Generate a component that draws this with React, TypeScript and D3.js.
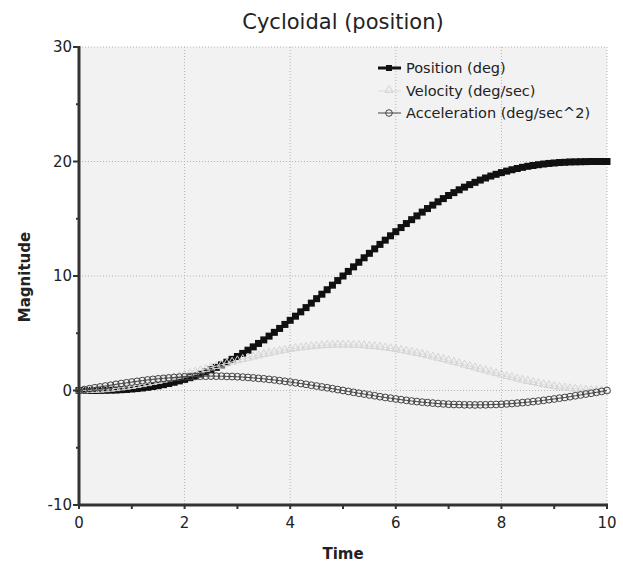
import React from "react";
import * as d3 from "d3";

const time = [
  0, 0.1, 0.2, 0.3, 0.4, 0.5, 0.6, 0.7, 0.8, 0.9,
  1, 1.1, 1.2, 1.3, 1.4, 1.5, 1.6, 1.7, 1.8, 1.9,
  2, 2.1, 2.2, 2.3, 2.4, 2.5, 2.6, 2.7, 2.8, 2.9,
  3, 3.1, 3.2, 3.3, 3.4, 3.5, 3.6, 3.7, 3.8, 3.9,
  4, 4.1, 4.2, 4.3, 4.4, 4.5, 4.6, 4.7, 4.8, 4.9,
  5, 5.1, 5.2, 5.3, 5.4, 5.5, 5.6, 5.7, 5.8, 5.9,
  6, 6.1, 6.2, 6.3, 6.4, 6.5, 6.6, 6.7, 6.8, 6.9,
  7, 7.1, 7.2, 7.3, 7.4, 7.5, 7.6, 7.7, 7.8, 7.9,
  8, 8.1, 8.2, 8.3, 8.4, 8.5, 8.6, 8.7, 8.8, 8.9,
  9, 9.1, 9.2, 9.3, 9.4, 9.5, 9.6, 9.7, 9.8, 9.9,
  10,
];

const position = [
  0, 0.0, 0.0, 0.0, 0.01, 0.02, 0.03, 0.04, 0.07, 0.09,
  0.13, 0.17, 0.22, 0.28, 0.35, 0.42, 0.51, 0.61, 0.72, 0.84,
  0.97, 1.12, 1.27, 1.44, 1.62, 1.82, 2.02, 2.24, 2.47, 2.72,
  2.97, 3.24, 3.52, 3.81, 4.11, 4.42, 4.75, 5.08, 5.42, 5.77,
  6.13, 6.49, 6.87, 7.24, 7.63, 8.02, 8.41, 8.8, 9.2, 9.6,
  10, 10.4, 10.8, 11.2, 11.59, 11.98, 12.37, 12.76, 13.13, 13.51,
  13.87, 14.23, 14.58, 14.92, 15.25, 15.58, 15.89, 16.19, 16.48, 16.76,
  17.03, 17.28, 17.53, 17.76, 17.98, 18.18, 18.38, 18.56, 18.73, 18.88,
  19.03, 19.16, 19.28, 19.39, 19.49, 19.58, 19.65, 19.72, 19.78, 19.83,
  19.87, 19.91, 19.93, 19.96, 19.97, 19.98, 19.99, 20.0, 20.0, 20.0,
  20,
];

const velocity = [
  0, 0.0, 0.02, 0.04, 0.06, 0.1, 0.14, 0.19, 0.25, 0.31,
  0.38, 0.46, 0.54, 0.63, 0.73, 0.82, 0.93, 1.04, 1.15, 1.26,
  1.38, 1.5, 1.63, 1.75, 1.87, 2.0, 2.13, 2.25, 2.37, 2.5,
  2.62, 2.74, 2.85, 2.96, 3.07, 3.18, 3.27, 3.37, 3.46, 3.54,
  3.62, 3.69, 3.75, 3.81, 3.86, 3.9, 3.94, 3.96, 3.98, 4.0,
  4.0, 4.0, 3.98, 3.96, 3.94, 3.9, 3.86, 3.81, 3.75, 3.69,
  3.62, 3.54, 3.46, 3.37, 3.27, 3.18, 3.07, 2.96, 2.85, 2.74,
  2.62, 2.5, 2.37, 2.25, 2.13, 2.0, 1.87, 1.75, 1.63, 1.5,
  1.38, 1.26, 1.15, 1.04, 0.93, 0.82, 0.73, 0.63, 0.54, 0.46,
  0.38, 0.31, 0.25, 0.19, 0.14, 0.1, 0.06, 0.04, 0.02, 0.0,
  0,
];

const acceleration = [
  0, 0.08, 0.16, 0.24, 0.31, 0.39, 0.46, 0.54, 0.61, 0.67,
  0.74, 0.8, 0.86, 0.92, 0.97, 1.02, 1.06, 1.1, 1.14, 1.17,
  1.2, 1.22, 1.23, 1.25, 1.25, 1.26, 1.25, 1.25, 1.23, 1.22,
  1.2, 1.17, 1.14, 1.1, 1.06, 1.02, 0.97, 0.92, 0.86, 0.8,
  0.74, 0.67, 0.61, 0.54, 0.46, 0.39, 0.31, 0.24, 0.16, 0.08,
  0, -0.08, -0.16, -0.24, -0.31, -0.39, -0.46, -0.54, -0.61, -0.67,
  -0.74, -0.8, -0.86, -0.92, -0.97, -1.02, -1.06, -1.1, -1.14, -1.17,
  -1.2, -1.22, -1.23, -1.25, -1.25, -1.26, -1.25, -1.25, -1.23, -1.22,
  -1.2, -1.17, -1.14, -1.1, -1.06, -1.02, -0.97, -0.92, -0.86, -0.8,
  -0.74, -0.67, -0.61, -0.54, -0.46, -0.39, -0.31, -0.24, -0.16, -0.08,
  0,
];

const xTicks = [0, 2, 4, 6, 8, 10];
const xMinorTicks = [0, 1, 2, 3, 4, 5, 6, 7, 8, 9, 10];
const yTicks = [-10, 0, 10, 20, 30];
const yMinorTicks = [-5, 5, 15, 25];
const seriesNames = ["Position (deg)", "Velocity (deg/sec)", "Acceleration (deg/sec^2)"];

const W = 623;
const H = 563;
const L = 79, R = 607, T = 47, B = 505;
const FONT = "'DejaVu Sans', sans-serif";

export default function App() {
  const x = d3.scaleLinear().domain([0, 10]).range([L, R]);
  const y = d3.scaleLinear().domain([-10, 30]).range([B, T]);
  const mk = (vals: number[]) =>
    d3.line<number>().x((_, i) => x(time[i])).y((v) => y(v))(vals) || "";

  const tri = d3.symbol().type(d3.symbolTriangle).size(28)() || "";

  return (
    <svg width={W} height={H} style={{ position: "absolute", left: 0, top: 0, background: "#fff" }} fontFamily={FONT}>
      <rect x={L} y={T} width={R - L} height={B - T} fill="#f2f2f2" />
      {xTicks.map((t) => (
        <line key={"gx" + t} x1={x(t)} x2={x(t)} y1={T} y2={B} stroke="#b4b4b4" strokeWidth={1} strokeDasharray="1,2" />
      ))}
      {yTicks.map((t) => (
        <line key={"gy" + t} x1={L} x2={R} y1={y(t)} y2={y(t)} stroke="#b4b4b4" strokeWidth={1} strokeDasharray="1,2" />
      ))}

      {/* Position */}
      <path d={mk(position)} fill="none" stroke="#111" strokeWidth={3} />
      {position.map((v, i) => (
        <rect key={"p" + i} x={x(time[i]) - 3.5} y={y(v) - 3.5} width={7} height={7} fill="#111" />
      ))}

      {/* Velocity */}
      <path d={mk(velocity)} fill="none" stroke="#dcdcdc" strokeWidth={1} />
      {velocity.map((v, i) => (
        <path key={"v" + i} d={tri} transform={`translate(${x(time[i])},${y(v)})`} fill="none" stroke="#d4d4d4" strokeWidth={1} />
      ))}

      {/* Acceleration */}
      <path d={mk(acceleration)} fill="none" stroke="#444" strokeWidth={1} />
      {acceleration.map((v, i) => (
        <circle key={"a" + i} cx={x(time[i])} cy={y(v)} r={3.4} fill="none" stroke="#444" strokeWidth={1} />
      ))}

      {/* axes */}
      <line x1={L} x2={L} y1={T - 1} y2={B + 1} stroke="#333" strokeWidth={3} />
      <line x1={L - 1} x2={R + 1} y1={B} y2={B} stroke="#333" strokeWidth={3} />
      {yTicks.map((t) => (
        <g key={"yt" + t}>
          <line x1={L - 6} x2={L} y1={y(t)} y2={y(t)} stroke="#333" strokeWidth={2} />
          <text x={L - 7} y={y(t)} dy="0.35em" textAnchor="end" fontSize={15} fill="#222">{t}</text>
        </g>
      ))}
      {yMinorTicks.map((t) => (
        <line key={"ym" + t} x1={L - 3} x2={L} y1={y(t)} y2={y(t)} stroke="#333" strokeWidth={2} />
      ))}
      {xMinorTicks.map((t) => (
        <line key={"xm" + t} x1={x(t)} x2={x(t)} y1={B} y2={B + 4} stroke="#333" strokeWidth={2} />
      ))}
      {xTicks.map((t) => (
        <text key={"xt" + t} x={x(t)} y={528} textAnchor="middle" fontSize={15} fill="#222">{t}</text>
      ))}

      <text x={343} y={29} textAnchor="middle" fontSize={21} fill="#222">Cycloidal (position)</text>
      <text x={343} y={559} textAnchor="middle" fontSize={15} fontWeight="bold" fill="#222">Time</text>
      <text transform={`translate(30,277) rotate(-90)`} textAnchor="middle" fontSize={15} fontWeight="bold" fill="#222">Magnitude</text>

      {/* legend */}
      <g>
        <line x1={378} x2={401} y1={68} y2={68} stroke="#111" strokeWidth={3} />
        <rect x={386} y={65} width={6} height={6} fill="#111" />
        <text x={406} y={68} dy="0.35em" fontSize={14.5} fill="#222">{seriesNames[0]}</text>

        <line x1={378} x2={401} y1={91} y2={91} stroke="#dcdcdc" strokeWidth={1} />
        <path d={tri} transform="translate(389,90)" fill="none" stroke="#d4d4d4" />
        <text x={406} y={91} dy="0.35em" fontSize={14.5} fill="#222">{seriesNames[1]}</text>

        <line x1={378} x2={401} y1={113} y2={113} stroke="#444" strokeWidth={1} />
        <circle cx={389} cy={113} r={3.3} fill="none" stroke="#444" />
        <text x={406} y={113} dy="0.35em" fontSize={14.5} fill="#222">{seriesNames[2]}</text>
      </g>
    </svg>
  );
}
